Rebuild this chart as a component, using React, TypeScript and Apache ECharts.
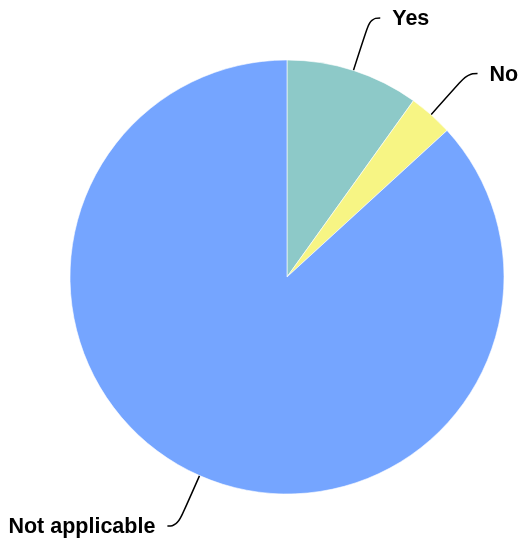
import React, { useEffect, useRef } from "react";
import * as echarts from "echarts";

const categories = ["Yes", "No", "Not applicable"];
const values = [30, 10, 263];
const colors = ["#8dc9c8", "#f7f584", "#75a5ff"];

export default function App() {
  const ref = useRef<HTMLDivElement>(null);
  useEffect(() => {
    if (!ref.current) return;
    const chart = echarts.init(ref.current, null, { renderer: "svg" });
    chart.setOption({
      animation: false,
      series: [
        {
          type: "pie",
          center: [287, 277],
          radius: [0, 217],
          startAngle: 90,
          clockwise: true,
          avoidLabelOverlap: false,
          data: categories.map((c, i) => ({
            name: c,
            value: values[i],
            itemStyle: { color: colors[i] },
          })),
          itemStyle: { borderColor: "#ffffff", borderWidth: 0.6 },
          label: {
            show: true,
            formatter: "{b}",
            color: "#000",
            fontFamily: "Liberation Sans, Arial, sans-serif",
            fontWeight: "bold",
            fontSize: 21.5,
            distanceToLabelLine: 12,
          },
          labelLine: {
            show: true,
            length: 55,
            length2: 10,
            smooth: 0.5,
            lineStyle: { color: "#000", width: 1.5 },
          },
          emphasis: { disabled: true },
        },
      ],
    });
    return () => chart.dispose();
  }, []);
  return (
    <div
      ref={ref}
      style={{ position: "fixed", left: 0, top: 0, width: 520, height: 543 }}
    />
  );
}
